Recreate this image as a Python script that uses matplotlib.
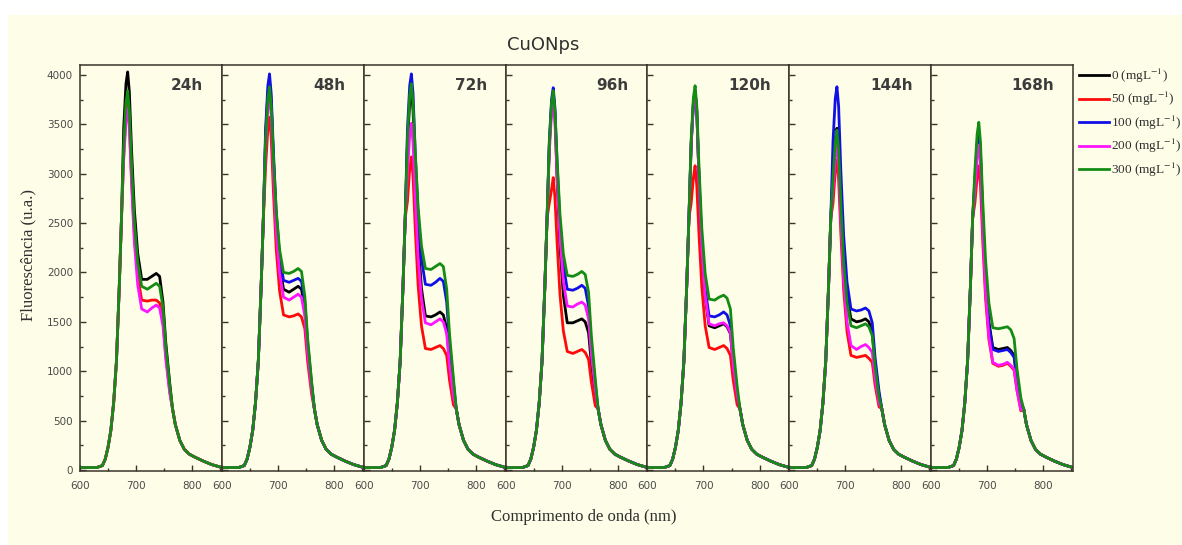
import matplotlib
matplotlib.use('Agg')
import matplotlib.pyplot as plt
from matplotlib.ticker import MultipleLocator
from matplotlib.patches import Rectangle

plt.rcParams['mathtext.fontset'] = 'stix'

# wavelength grid (nm): rising edge, peak/shoulder region, tail
wl_rise = [600, 630, 640, 645, 650, 655, 660, 665, 670, 674]
wl_mid = [678, 682, 685, 688, 692, 697, 703, 710, 720, 728, 736, 742, 748, 753, 760]
wl_tail = [765, 770, 778, 786, 795, 805, 820, 835, 853]

# shared rising edge and tail (all curves overlap there)
rise = [25, 25, 45, 110, 230, 400, 680, 1100, 1850, 2550]
tail = [620, 460, 300, 210, 160, 130, 90, 55, 25]

hours = ['24h', '48h', '72h', '96h', '120h', '144h', '168h']
conc = ['0', '50', '100', '200', '300']
colors = ['#000000', '#ff0a0a', '#1010e6', '#ff14ff', '#148c14']

# peak / shoulder region of each curve
c0_24 = [3470, 3910, 4030, 3830, 3230, 2630, 2190, 1930, 1930, 1960, 1990, 1960, 1700, 1290, 880]
c50_24 = [3190, 3590, 3710, 3510, 2950, 2380, 1960, 1720, 1710, 1720, 1720, 1690, 1510, 1160, 800]
c100_24 = None
c200_24 = [3150, 3540, 3660, 3460, 2890, 2300, 1870, 1630, 1600, 1640, 1670, 1640, 1460, 1120, 780]
c300_24 = [3300, 3720, 3840, 3640, 3090, 2510, 2100, 1860, 1830, 1860, 1890, 1860, 1650, 1250, 860]

c0_48 = [3380, 3810, 3930, 3730, 3130, 2520, 2080, 1830, 1800, 1830, 1860, 1830, 1630, 1240, 850]
c50_48 = [3070, 3450, 3570, 3370, 2810, 2230, 1810, 1570, 1550, 1560, 1580, 1550, 1430, 1100, 770]
c100_48 = [3450, 3890, 4010, 3810, 3220, 2610, 2170, 1920, 1900, 1920, 1940, 1910, 1700, 1290, 880]
c200_48 = [3260, 3670, 3790, 3590, 3020, 2420, 1990, 1750, 1720, 1750, 1780, 1750, 1560, 1190, 820]
c300_48 = [3330, 3760, 3880, 3680, 3160, 2620, 2230, 2000, 1990, 2010, 2040, 2010, 1760, 1330, 900]

c0_72 = [3300, 3720, 3840, 3640, 2980, 2320, 1840, 1560, 1550, 1570, 1600, 1570, 1430, 1100, 770]
c50_72 = [2720, 3050, 3170, 2970, 2430, 1870, 1460, 1230, 1220, 1240, 1260, 1230, 1160, 910, 660]
c100_72 = [3450, 3890, 4010, 3810, 3200, 2590, 2140, 1880, 1870, 1900, 1940, 1910, 1700, 1290, 880]
c200_72 = [3010, 3390, 3510, 3310, 2740, 2160, 1740, 1490, 1470, 1500, 1530, 1500, 1380, 1060, 750]
c300_72 = [3360, 3790, 3910, 3710, 3200, 2660, 2270, 2040, 2030, 2060, 2090, 2060, 1830, 1380, 930]

c0_96 = [3280, 3690, 3810, 3610, 2930, 2260, 1770, 1490, 1490, 1510, 1530, 1500, 1390, 1080, 760]
c50_96 = [2700, 2840, 2960, 2760, 2290, 1780, 1410, 1200, 1180, 1200, 1220, 1190, 1120, 890, 650]
c100_96 = [3330, 3750, 3870, 3670, 3090, 2500, 2080, 1830, 1820, 1840, 1870, 1840, 1660, 1260, 870]
c200_96 = [3220, 3620, 3740, 3540, 2950, 2350, 1910, 1660, 1650, 1680, 1700, 1670, 1530, 1170, 810]
c300_96 = [3300, 3720, 3840, 3640, 3130, 2590, 2190, 1970, 1960, 1980, 2010, 1980, 1800, 1360, 920]

c0_120 = [3300, 3720, 3840, 3640, 2940, 2250, 1750, 1460, 1440, 1460, 1480, 1450, 1380, 1070, 750]
c50_120 = [2700, 2960, 3080, 2880, 2380, 1850, 1460, 1240, 1220, 1240, 1260, 1230, 1160, 910, 660]
c100_120 = [3290, 3710, 3830, 3630, 2970, 2310, 1830, 1560, 1550, 1570, 1600, 1570, 1460, 1120, 780]
c200_120 = [3300, 3720, 3840, 3640, 2940, 2260, 1760, 1480, 1460, 1480, 1490, 1460, 1390, 1070, 760]
c300_120 = [3350, 3770, 3890, 3690, 3070, 2450, 1990, 1730, 1720, 1750, 1770, 1740, 1630, 1240, 850]

c0_144 = [2980, 3340, 3460, 3260, 2730, 2170, 1760, 1530, 1500, 1510, 1530, 1500, 1390, 1070, 760]
c50_144 = [2700, 3020, 3140, 2940, 2390, 1820, 1400, 1160, 1140, 1150, 1160, 1130, 1090, 860, 640]
c100_144 = [3330, 3760, 3880, 3680, 3020, 2370, 1900, 1630, 1610, 1620, 1640, 1610, 1490, 1140, 800]
c200_144 = [2840, 3180, 3300, 3100, 2520, 1930, 1500, 1260, 1220, 1250, 1270, 1240, 1190, 930, 680]
c300_144 = [2960, 3320, 3440, 3240, 2690, 2110, 1700, 1460, 1440, 1460, 1480, 1450, 1360, 1050, 740]

c0_168 = [2940, 3300, 3420, 3220, 2590, 1960, 1500, 1240, 1220, 1230, 1240, 1210, 1160, 910, 660]
c50_168 = [2700, 2960, 3080, 2880, 2320, 1740, 1320, 1080, 1050, 1060, 1080, 1050, 1010, 810, 600]
c100_168 = [2880, 3230, 3350, 3150, 2540, 1920, 1470, 1220, 1200, 1210, 1220, 1190, 1140, 900, 660]
c200_168 = [2830, 3170, 3290, 3090, 2450, 1810, 1350, 1090, 1060, 1070, 1090, 1060, 1020, 810, 610]
c300_168 = [3030, 3400, 3520, 3320, 2730, 2130, 1690, 1440, 1430, 1440, 1450, 1420, 1330, 1030, 730]

panels = [
    [c0_24, c50_24, c100_24, c200_24, c300_24],
    [c0_48, c50_48, c100_48, c200_48, c300_48],
    [c0_72, c50_72, c100_72, c200_72, c300_72],
    [c0_96, c50_96, c100_96, c200_96, c300_96],
    [c0_120, c50_120, c100_120, c200_120, c300_120],
    [c0_144, c50_144, c100_144, c200_144, c300_144],
    [c0_168, c50_168, c100_168, c200_168, c300_168],
]

cream = '#fdfde8'
edge = '#3a342a'
W, H = 1182, 545

fig = plt.figure(figsize=(W / 100, H / 100), dpi=100)
fig.patch.set_facecolor('white')
fig.add_artist(Rectangle((8 / W, 0), 1, 1 - 15 / H, transform=fig.transFigure,
                         facecolor=cream, edgecolor='none', zorder=-10))

axes = fig.subplots(1, 7, sharey=True,
                    gridspec_kw=dict(wspace=0, left=80 / W, right=1073 / W,
                                     bottom=74 / H, top=480 / H))

x = wl_rise + wl_mid + wl_tail
handles = []
for i, ax in enumerate(axes):
    ax.set_facecolor(cream)
    for j, mid in enumerate(panels[i]):
        if mid is None:
            continue
        ln, = ax.plot(x, rise + mid + tail, color=colors[j], lw=2.0,
                      solid_joinstyle='round', label=conc[j] + r' (mgL$^{-1}$)')
        if i == 1:
            handles.append(ln)
    ax.set_xlim(600, 853)
    ax.set_ylim(-10, 4100)
    ax.set_xticks([600, 700, 800])
    ax.xaxis.set_minor_locator(MultipleLocator(50))
    ax.yaxis.set_major_locator(MultipleLocator(500))
    ax.yaxis.set_minor_locator(MultipleLocator(250))
    ax.tick_params(which='both', direction='in', color=edge, width=1,
                   top=False, right=False, labelsize=7.5, labelcolor='#4a4a4a')
    ax.tick_params(which='major', length=4)
    ax.tick_params(which='minor', length=2.5)
    ax.tick_params(axis='x', pad=7)
    ax.tick_params(axis='y', pad=5)
    if i > 0:
        ax.tick_params(labelleft=False)
    for s in ax.spines.values():
        s.set_color(edge)
        s.set_linewidth(1.1)
    ax.text(0.87, 0.95, hours[i], transform=ax.transAxes, ha='right', va='center',
            fontsize=11, fontweight='bold', color='#3c3c3c', family='DejaVu Sans')

fig.text(543 / W, 1 - 45 / H, 'CuONps', ha='center', va='center', fontsize=13,
         color='#303030', family='DejaVu Sans')
fig.text(28 / W, 1 - 255 / H, 'Fluorescência (u.a.)', rotation=90, ha='center',
         va='center', fontsize=12, color='#303030', family='Liberation Serif')
fig.text(584 / W, 1 - 517 / H, 'Comprimento de onda (nm)', ha='center', va='center',
         fontsize=12, color='#303030', family='Liberation Serif')

fig.legend(handles, [h.get_label() for h in handles], loc='upper left',
           bbox_to_anchor=(1079 / W, 1 - 67 / H), frameon=False,
           prop={'family': 'Liberation Serif', 'size': 9.5}, handlelength=2.3,
           handletextpad=0.15, labelspacing=0.4, borderpad=0, borderaxespad=0,
           labelcolor='#303030')

fig.savefig('out.png', dpi=100, facecolor=fig.get_facecolor())
